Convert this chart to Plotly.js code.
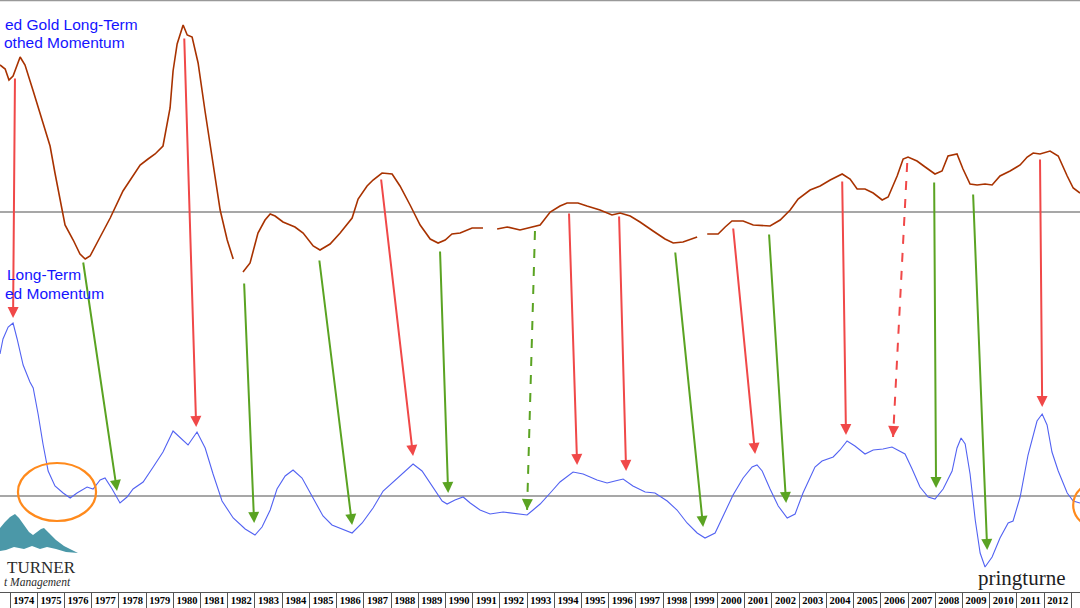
<!DOCTYPE html>
<html><head><meta charset="utf-8">
<script src="https://cdn.plot.ly/plotly-3.0.1.min.js"></script>
<style>html,body{margin:0;padding:0;background:#fff}#chart{width:1080px;height:608px}</style>
</head><body><div id="chart"></div>
<script>
// ---------- data ----------
const goldYears = [1973.63,1973.82,1973.96,1974.11,1974.37,1974.55,1974.85,1975.18,1975.47,1975.65,1975.84,1976.02,1976.32,1976.57,1976.76,1976.94,1977.31,1977.68,1978.15,1978.52,1978.78,1979.07,1979.33,1979.62,1979.88,1979.99,1980.14,1980.36,1980.51,1980.69,1980.91,1981.17,1981.46,1981.72,1981.98,1982.20,1982.38,1982.56,1982.82,1983.11,1983.37,1983.56,1983.74,1984.03,1984.47,1984.77,1985.14,1985.39,1985.76,1986.13,1986.57,1986.79,1987.12,1987.34,1987.67,1988.04,1988.33,1988.70,1989.07,1989.44,1989.73,1989.99,1990.24,1990.54,1990.98,1991.38,1991.64,1991.90,1992.27,1992.74,1993.18,1993.48,1993.85,1994.21,1994.47,1994.87,1995.20,1995.68,1996.12,1996.42,1996.79,1997.15,1997.63,1998.07,1998.37,1998.73,1999.25,1999.44,1999.62,2000.02,2000.28,2000.53,2000.94,2001.31,2001.93,2002.30,2002.67,2002.96,2003.40,2003.77,2004.14,2004.58,2004.87,2005.13,2005.42,2005.72,2006.05,2006.27,2006.60,2006.82,2007.00,2007.33,2007.63,2007.99,2008.25,2008.47,2008.80,2009.02,2009.28,2009.54,2009.83,2010.09,2010.38,2010.75,2011.12,2011.38,2011.60,2011.85,2012.22,2012.52,2012.85,2013.07,2013.32];
const goldValues = [73.5,71.5,66,68,77.5,73.5,60.5,46,33,19.5,6.5,-6.5,-14,-21,-23.5,-22,-12.5,-3,10.5,18,23.5,26.5,29,33,52,70.5,84,93.5,88.5,87.5,74.5,50,23.5,1,-14,-23.5,null,-30,-25.5,-10.5,-4,-1,-2,-5,-7.5,-10.5,-17,-19,-16,-10.5,-3,6.5,13,16,19.5,19,13,3.5,-6.5,-13.5,-15.5,-14,-11,-10.5,-8,-8,null,-8.5,-7.5,-9,-7.5,-6.5,0,3,4.5,4.5,3,1,-1.5,-0.5,-2,-5,-9.5,-13.5,-15.5,-15,-12.5,null,-11,-11,-7.5,-4.5,-4.5,-6.5,-7,-4,1,6.5,11,13,16,19,16.5,11.5,11.5,9.5,6,7.5,18,26.5,27.5,25.5,22.5,19,20.5,28,29,21.5,14,13.5,14,13.5,18,20.5,23.5,27.5,29.5,29,30.5,28,18,12,9.5];

const blueYears = [1973.63,1973.74,1973.93,1974.11,1974.26,1974.48,1974.73,1974.85,1975.03,1975.21,1975.40,1975.65,1975.95,1976.21,1976.46,1976.83,1977.05,1977.31,1977.49,1977.75,1978.04,1978.30,1978.52,1978.89,1979.26,1979.62,1979.99,1980.32,1980.54,1980.87,1981.17,1981.46,1981.79,1982.20,1982.64,1983.00,1983.26,1983.56,1983.81,1984.11,1984.40,1984.73,1985.10,1985.50,1985.83,1986.20,1986.57,1986.94,1987.34,1987.71,1988.08,1988.41,1988.81,1989.14,1989.51,1989.88,1990.06,1990.35,1990.65,1990.91,1991.27,1991.64,1992.12,1992.63,1993.00,1993.22,1993.48,1993.85,1994.21,1994.69,1995.06,1995.57,1995.94,1996.23,1996.53,1996.89,1997.34,1997.70,1998.15,1998.51,1998.88,1999.25,1999.54,1999.91,2000.20,2000.57,2000.94,2001.27,2001.45,2001.64,2001.93,2002.23,2002.56,2002.85,2003.14,2003.40,2003.58,2003.84,2004.25,2004.50,2004.76,2005.05,2005.42,2005.72,2006.08,2006.41,2006.63,2006.89,2007.15,2007.44,2007.74,2007.99,2008.29,2008.62,2008.80,2008.95,2009.10,2009.28,2009.47,2009.65,2009.83,2010.09,2010.38,2010.68,2010.86,2011.12,2011.41,2011.74,2011.93,2012.11,2012.29,2012.52,2012.85,2013.07,2013.32];
const blueValues = [71,78.5,84.5,86.5,78.5,65.5,57,54,41,26,12.5,5,1.5,-1,1.5,4.5,3.5,8,9,3.5,-3.5,-0.5,3.5,7,14.5,22,32.5,28,25.5,32,24,11,-2.5,-11,-16.5,-19.5,-15.5,-7,3.5,10,13,9,-0.5,-10,-14.5,-16.5,-18.5,-13.5,-6,2.5,7,11,16,12.5,5,-2.5,-4,-2,-0.5,-3.5,-7,-9,-8,-9,-9.5,-7,-4,1.5,7,12,11,8,6.5,7.5,8.5,5,2,1.5,-2.5,-7,-13.5,-18.5,-21,-18.5,-10,0.5,9,14.5,15.5,12.5,3.5,-5,-11,-9,1.5,9,14.5,17.5,19.5,23,27.5,25,21,23,23.5,24.5,23,21,13.5,4.5,-0.5,-1.5,3.5,12.5,24,29,26,11,-12,-28.5,-35.5,-30.5,-21,-13.5,-12.5,-0.5,20.5,37.5,41,35.5,22,12.5,1.5,-2.5,-3.5];

const yearLabels = ['1973','1974','1975','1976','1977','1978','1979','1980','1981','1982','1983','1984','1985','1986','1987','1988','1989','1990','1991','1992','1993','1994','1995','1996','1997','1998','1999','2000','2001','2002','2003','2004','2005','2006','2007','2008','2009','2010','2011','2012','2013'];

// arrows: tail on the gold line (gold units), head on the lower line (lower-line units)
const arrowTailYears  = [1974.18,1976.68,1980.40,1982.60,1985.36,1987.63,1989.80,1993.29,1994.54,1996.38,1998.44,2000.57,2001.89,2004.58,2006.97,2007.96,2009.39,2011.85];
const arrowTailValues = [67.5,-24.5,87.5,-35,-23.5,17,-19,-9.5,0,-1.5,-19.5,-7.5,-10.5,16,24.5,15.5,9.5,27];
const arrowHeadYears  = [1974.11,1977.93,1980.84,1982.97,1986.57,1988.81,1990.10,1993.00,1994.84,1996.64,1999.47,2001.38,2002.52,2004.72,2006.45,2008.03,2009.91,2011.93];
const arrowHeadValues = [89,2.5,34.5,-13.5,-14.5,20,1.5,-7,15.5,12.5,-15.5,21,-3.5,30.5,29.5,4,-27,44.5];
const arrowKinds      = ['sell','buy','sell','buy','buy','sell','buy','buy','sell','sell','buy','sell','buy','sell','sell','buy','buy','sell'];
const arrowDashed     = [false,false,false,false,false,false,false,true,false,false,false,false,false,false,true,false,false,false];

// highlighted zones (year span, lower-line value span)
const circleYears  = [[1974.29,1977.16],[2013.07,2014.9]];
const circleValues = [[-12.5,16.5],[-16,7]];

// ---------- layout helpers ----------
const GOLD_RANGE = [-190, 106];
const BLUE_RANGE = [-48, 248];
const X_RANGE = [1973.63, 2013.32];
const W = 1080, H = 592;
function goldToBlue(v){
  const f = (v - GOLD_RANGE[0]) / (GOLD_RANGE[1] - GOLD_RANGE[0]);
  return BLUE_RANGE[0] + f * (BLUE_RANGE[1] - BLUE_RANGE[0]);
}
const px = x => x / W;
const py = y => 1 - y / H;

const RED = '#F04848', GREEN = '#5AA322';

const traces = [
  {x: goldYears, y: goldValues, type: 'scatter', mode: 'lines', yaxis: 'y',
   line: {color: '#A83200', width: 1.6}, hoverinfo: 'skip'},
  {x: blueYears, y: blueValues, type: 'scatter', mode: 'lines', yaxis: 'y2',
   line: {color: '#5262F2', width: 1.1}, hoverinfo: 'skip'}
];

const shapes = [
  {type: 'line', xref: 'paper', yref: 'y', x0: 0, x1: 1, y0: 0, y1: 0, line: {color: '#8a8a8a', width: 1.6}, layer: 'below'},
  {type: 'line', xref: 'paper', yref: 'y2', x0: 0, x1: 1, y0: 0, y1: 0, line: {color: '#8a8a8a', width: 1.6}, layer: 'below'},
  {type: 'line', xref: 'paper', yref: 'paper', x0: 0, x1: 1, y0: 1, y1: 1, line: {color: '#999', width: 2.5}},
];
circleYears.forEach((c, i) => shapes.push({type: 'circle', xref: 'x', yref: 'y2',
  x0: c[0], x1: c[1], y0: circleValues[i][0], y1: circleValues[i][1],
  line: {color: '#FF8A1C', width: 2.2}}));

// logo mountains (decoration)
const mtn = [[0,528],[5,522],[10,517],[15,514],[19,518],[24,525],[29,532],[33,535],[37,532],[41,529],[44,528],[49,533],[56,540],[64,546],[78,553],[66,552],[56,549],[47,547],[40,549],[32,546],[24,549],[14,547],[6,550],[0,551]];
shapes.push({type: 'path', xref: 'paper', yref: 'paper',
  path: 'M' + mtn.map(p => px(p[0]) + ',' + py(p[1])).join(' L') + ' Z',
  fillcolor: '#4B98A8', line: {width: 0}});

const annotations = [];
arrowTailYears.forEach((ty, i) => {
  const color = arrowKinds[i] === 'sell' ? RED : GREEN;
  const tailB = goldToBlue(arrowTailValues[i]);
  const hx = arrowHeadYears[i], hy = arrowHeadValues[i];
  let ax = ty, ay = tailB;
  if (arrowDashed[i]) {
    shapes.push({type: 'line', xref: 'x', yref: 'y2', x0: ty, y0: tailB, x1: hx, y1: hy,
      line: {color: color, width: 2, dash: 'dash'}});
    ax = hx + (ty - hx) * 0.04; ay = hy + (tailB - hy) * 0.04;
  }
  annotations.push({x: hx, y: hy, xref: 'x', yref: 'y2', ax: ax, ay: ay, axref: 'x', ayref: 'y2',
    text: '', showarrow: true, arrowhead: 2, arrowsize: 1.1, arrowwidth: 2, arrowcolor: color, standoff: 0});
});

const blueFont = {family: 'Liberation Sans, Arial, sans-serif', size: 15.5, color: '#1414FF'};
annotations.push(
  {xref: 'paper', yref: 'paper', x: px(140), y: py(25), xanchor: 'right', yanchor: 'middle', text: 'ed Gold Long-Term', showarrow: false, font: blueFont},
  {xref: 'paper', yref: 'paper', x: px(127), y: py(43), xanchor: 'right', yanchor: 'middle', text: 'othed Momentum', showarrow: false, font: blueFont},
  {xref: 'paper', yref: 'paper', x: px(83), y: py(275), xanchor: 'right', yanchor: 'middle', text: 'Long-Term', showarrow: false, font: blueFont},
  {xref: 'paper', yref: 'paper', x: px(106), y: py(293), xanchor: 'right', yanchor: 'middle', text: 'ed Momentum', showarrow: false, font: blueFont},
  {xref: 'paper', yref: 'paper', x: px(78), y: py(567), xanchor: 'right', yanchor: 'middle', text: 'TURNER', showarrow: false,
   font: {family: 'Liberation Serif, serif', size: 17, color: '#2b2b2b'}},
  {xref: 'paper', yref: 'paper', x: px(2), y: py(582), xanchor: 'left', yanchor: 'middle', text: '<i>t Management</i>', showarrow: false,
   font: {family: 'Liberation Serif, serif', size: 11.5, color: '#2b2b2b'}},
  {xref: 'paper', yref: 'paper', x: px(976), y: py(578), xanchor: 'left', yanchor: 'middle', text: 'pringturne', showarrow: false,
   font: {family: 'Liberation Serif, serif', size: 21, color: '#1e1e1e'}}
);

const tickVals = yearLabels.map(y => Number(y) + 0.5);

const layout = {
  width: 1080, height: 608,
  margin: {l: 0, r: 0, t: 0, b: 16, pad: 0},
  paper_bgcolor: '#fff', plot_bgcolor: '#fff',
  showlegend: false,
  xaxis: {range: X_RANGE, tickmode: 'array', tickvals: tickVals, ticktext: yearLabels, ticks: '',
    ticklabelstandoff: -2,
    tickfont: {family: 'Liberation Serif, serif', size: 10.5, color: '#000', weight: 'bold'},
    showgrid: false, zeroline: false, showline: true, linecolor: '#555', linewidth: 1,
    minor: {tick0: 1974, dtick: 1, ticks: 'outside', ticklen: 16, tickwidth: 1, tickcolor: '#555', showgrid: false},
    fixedrange: true},
  yaxis: {range: GOLD_RANGE, visible: false, showgrid: false, zeroline: false, fixedrange: true},
  yaxis2: {range: BLUE_RANGE, overlaying: 'y', visible: false, showgrid: false, zeroline: false, fixedrange: true},
  shapes: shapes,
  annotations: annotations
};

Plotly.newPlot('chart', traces, layout, {staticPlot: true, displayModeBar: false});
</script>
</body></html>
